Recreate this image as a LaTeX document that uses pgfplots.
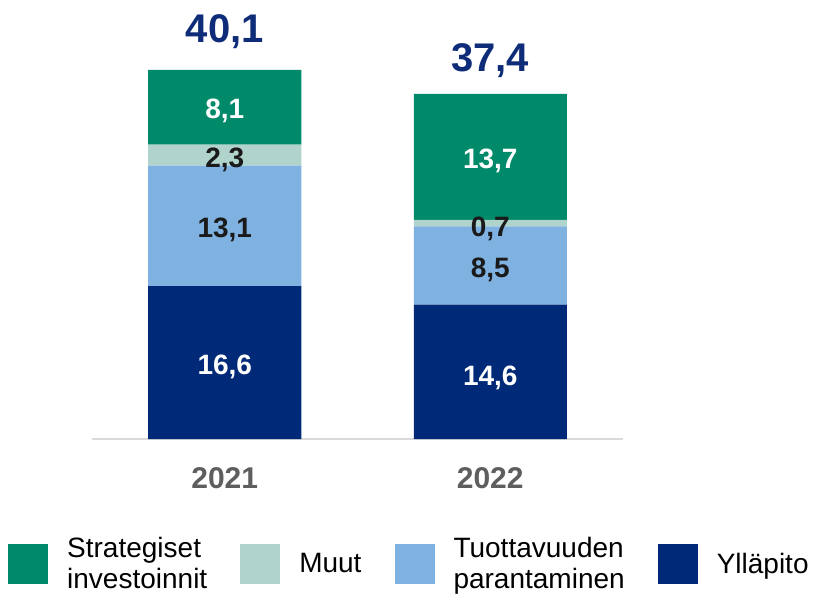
\documentclass[border=0pt]{standalone}
\usepackage{pgfplots}
\pgfplotsset{compat=1.18}
\usepackage{fontspec}
\setmainfont{Liberation Sans}
\definecolor{cGreen}{HTML}{008A69}
\definecolor{cMint}{HTML}{B0D3CC}
\definecolor{cLight}{HTML}{7FB2E0}
\definecolor{cNavy}{HTML}{002A78}
\definecolor{cTotal}{HTML}{0E2C78}
\definecolor{cYear}{HTML}{5E5E5E}
\definecolor{cAxis}{HTML}{DADADA}
\definecolor{cDark}{HTML}{1A1A1A}
\pgfplotsset{base/.style={at={(0pt,0pt)}, anchor=south west,
  scale only axis, width=531pt, height=369pt,
  xmin=-0.5, xmax=1.5, ymin=0, ymax=40.1, clip=false}}
\begin{document}
\begin{tikzpicture}
\useasboundingbox (-92pt,-160pt) rectangle (721pt,439pt);
\begin{axis}[
  base,
  ybar stacked, bar width=153pt,
  axis x line*=bottom, axis y line=none,
  x axis line style={draw=cAxis, line width=2pt, -},
  xtick={0,1}, xticklabels={2021,2022},
  major tick length=0pt,
  xticklabel style={font=\fontsize{30}{36}\selectfont\bfseries, text=cYear, anchor=base, yshift=-49pt},
  ytick=\empty,
  legend columns=4,
  legend style={draw=none, fill=none, at={(rel axis cs:0,0)}, anchor=west, xshift=-84pt, yshift=-125pt,
    font=\fontsize{28}{31}\selectfont, nodes={align=left}, inner sep=0pt,
    /tikz/every odd column/.append style={column sep=17pt},
    /tikz/every even column/.append style={column sep=31pt}},
  legend image code/.code={\fill[#1] (0pt,-20pt) rectangle (40pt,20pt);},
]
\addlegendimage{fill=cGreen, draw=none}
\addlegendentry{{Strategiset\\investoinnit}}
\addlegendimage{fill=cMint, draw=none}
\addlegendentry{Muut}
\addlegendimage{fill=cLight, draw=none}
\addlegendentry{{Tuottavuuden\\parantaminen}}
\addlegendimage{fill=cNavy, draw=none}
\addlegendentry{Ylläpito}

\addplot[fill=cNavy, draw=none, forget plot] coordinates {(0,16.6) (1,14.6)};
\addplot[fill=cLight, draw=none, forget plot] coordinates {(0,13.1) (1,8.5)};
\addplot[fill=cMint, draw=none, forget plot] coordinates {(0,2.3) (1,0.7)};
\addplot[fill=cGreen, draw=none, forget plot] coordinates {(0,8.1) (1,13.7)};
\end{axis}
\begin{axis}[base, hide axis]
\begin{scope}[every node/.style={font=\fontsize{28}{32}\selectfont\bfseries, yshift=-4pt}]
\node[text=white] at (axis cs:0,8.3) {16,6};
\node[text=cDark] at (axis cs:0,23.15) {13,1};
\node[text=cDark] at (axis cs:0,30.8) {2,3};
\node[text=white] at (axis cs:0,36.05) {8,1};
\node[text=white] at (axis cs:1,7.1) {14,6};
\node[text=cDark] at (axis cs:1,18.85) {8,5};
\node[text=cDark] at (axis cs:1,23.3) {0,7};
\node[text=white] at (axis cs:1,30.65) {13,7};
\end{scope}
\node[font=\fontsize{40}{44}\selectfont\bfseries, text=cTotal] at (axis cs:0,44.3) {40,1};
\node[font=\fontsize{40}{44}\selectfont\bfseries, text=cTotal] at (axis cs:1,41.1) {37,4};
\end{axis}
\end{tikzpicture}
\end{document}
